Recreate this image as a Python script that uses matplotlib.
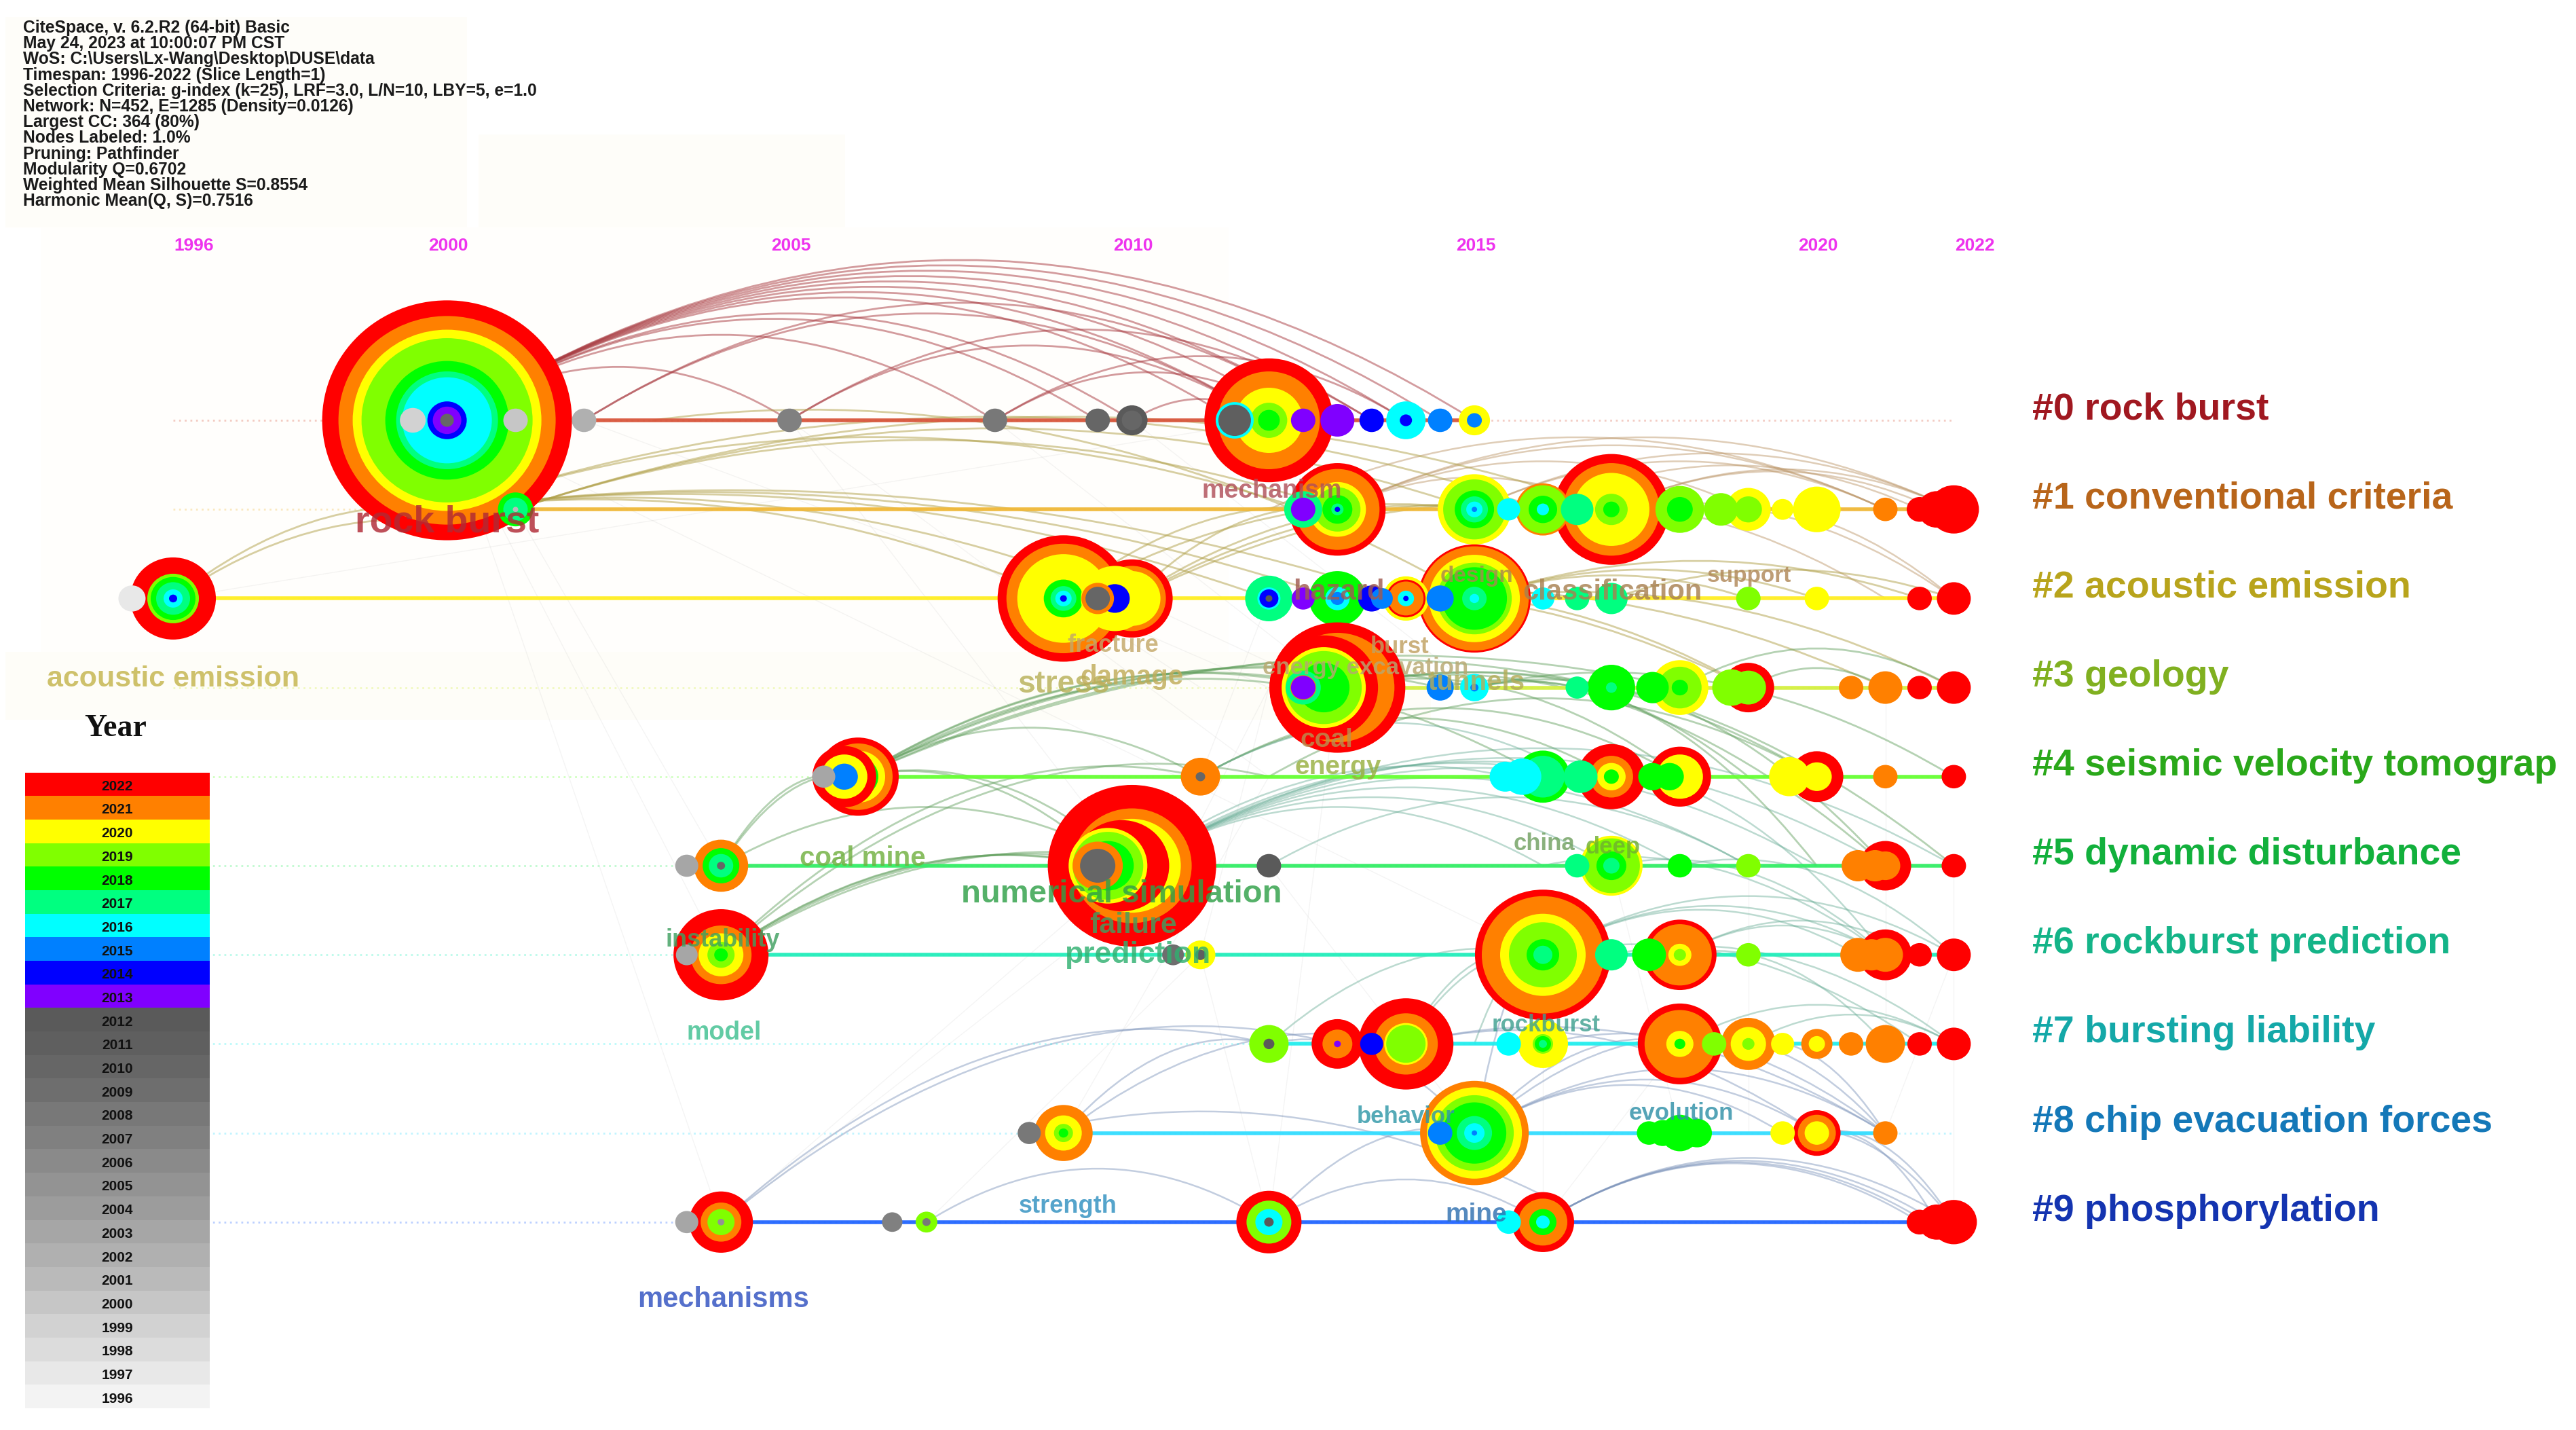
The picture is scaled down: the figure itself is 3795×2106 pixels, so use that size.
import matplotlib
matplotlib.use("Agg")
import matplotlib.pyplot as plt
from matplotlib.patches import Ellipse, PathPatch, Rectangle
from matplotlib.path import Path

W, H = 3795, 2106
plt.rcParams['font.family'] = ['Liberation Sans', 'DejaVu Sans']

# ---------- data ----------
INFO_LINES = [
    "CiteSpace, v. 6.2.R2 (64-bit) Basic",
    "May 24, 2023 at 10:00:07 PM CST",
    "WoS: C:\\Users\\Lx-Wang\\Desktop\\DUSE\\data",
    "Timespan: 1996-2022 (Slice Length=1)",
    "Selection Criteria: g-index (k=25), LRF=3.0, L/N=10, LBY=5, e=1.0",
    "Network: N=452, E=1285 (Density=0.0126)",
    "Largest CC: 364 (80%)",
    "Nodes Labeled: 1.0%",
    "Pruning: Pathfinder",
    "Modularity Q=0.6702",
    "Weighted Mean Silhouette S=0.8554",
    "Harmonic Mean(Q, S)=0.7516",
]
TIME_TICKS = [1996, 2000, 2005, 2010, 2015, 2020, 2022]
CLUSTERS = ["#0 rock burst", "#1 conventional criteria", "#2 acoustic emission", "#3 geology",
            "#4 seismic velocity tomograp", "#5 dynamic disturbance", "#6 rockburst prediction",
            "#7 bursting liability", "#8 chip evacuation forces", "#9 phosphorylation"]
LEGEND_YEARS = list(range(2022, 1995, -1))
YEAR_COLORS = {2022: "#ff0000", 2021: "#ff8000", 2020: "#ffff00", 2019: "#80ff00", 2018: "#00ff00",
               2017: "#00ff80", 2016: "#00ffff", 2015: "#0080ff", 2014: "#0000ff", 2013: "#8000ff",
               2012: "#5a5a5a", 2011: "#5f5f5f", 2010: "#666666", 2009: "#6e6e6e", 2008: "#787878",
               2007: "#808080", 2006: "#8a8a8a", 2005: "#939393", 2004: "#9c9c9c", 2003: "#a6a6a6",
               2002: "#b0b0b0", 2001: "#bababa", 2000: "#c6c6c6", 1999: "#d2d2d2", 1998: "#dcdcdc",
               1997: "#e8e8e8", 1996: "#f3f3f3"}

# node = (year, [(ring year, ring size), ... outer to inner])
NODES_0 = [
    (2000, [(2022, 184), (2021, 160), (2020, 139), (2019, 126), (2018, 91), (2017, 75), (2016, 66), (2014, 29), (2013, 21), (2010, 10)]),
    (1999.5, [(1999, 19)]), (2001, [(2000, 18)]), (2002, [(2002, 18)]), (2005, [(2007, 18)]),
    (2008, [(2008, 18)]), (2009.5, [(2010, 18)]), (2010, [(2012, 23), (2010, 15)]),
    (2012, [(2022, 95), (2021, 75), (2020, 50), (2019, 27), (2018, 16)]),
    (2011.5, [(2016, 28), (2011, 24)]), (2012.5, [(2013, 18)]), (2013, [(2013, 25)]), (2013.5, [(2014, 18)]),
    (2014, [(2016, 29), (2014, 9)]), (2014.5, [(2015, 18)]), (2015, [(2020, 23), (2015, 11)]),
]
NODES_1 = [
    (2001, [(2018, 26), (2017, 18), (2001, 4)]),
    (2013, [(2022, 71), (2021, 62), (2020, 42), (2019, 34), (2018, 22), (2017, 9), (2014, 4)]),
    (2012.5, [(2017, 28), (2013, 18)]),
    (2015, [(2020, 54), (2019, 46), (2018, 29), (2017, 20), (2016, 12), (2015, 4)]),
    (2015.5, [(2016, 17)]),
    (2016, [(2021, 40), (2019, 37), (2018, 21), (2016, 9)]),
    (2017, [(2022, 85), (2021, 71), (2020, 56), (2019, 24), (2018, 12)]),
    (2016.5, [(2017, 24)]),
    (2018, [(2019, 36), (2018, 19)]), (2018.6, [(2019, 25)]),
    (2019, [(2020, 33), (2019, 20)]), (2019.5, [(2020, 16)]), (2020, [(2020, 35)]), (2021, [(2021, 18)]),
    (2021.5, [(2022, 19)]), (2021.75, [(2022, 28)]), (2022, [(2022, 37)]),
]
NODES_2 = [
    (1996, [(2022, 63), (2019, 38), (2018, 33), (2017, 25), (2016, 14), (2014, 6)]),
    (1995.4, [(1997, 20)]),
    (2009, [(2022, 97), (2021, 84), (2020, 68), (2018, 29), (2017, 19), (2016, 12), (2014, 5)]),
    (2010, [(2022, 60), (2021, 50), (2020, 42), (2018, 13), (2020, 8)]),
    (2009.75, [(2020, 50), (2014, 22)]),
    (2009.5, [(2021, 24), (2010, 18)]),
    (2012, [(2017, 35), (2016, 17), (2014, 14), (2012, 5)]), (2012.5, [(2013, 17)]),
    (2013, [(2018, 42), (2016, 18), (2015, 10)]), (2013.5, [(2014, 20)]), (2013.65, [(2015, 16)]),
    (2014, [(2020, 34), (2022, 29), (2021, 26), (2016, 12), (2014, 4)]),
    (2015, [(2022, 83), (2021, 80), (2020, 67), (2019, 55), (2018, 48), (2017, 18), (2016, 7)]),
    (2014.5, [(2015, 20)]), (2016, [(2016, 17)]), (2016.5, [(2017, 18)]), (2017, [(2017, 24)]),
    (2019, [(2019, 18)]), (2020, [(2020, 18)]), (2021.5, [(2022, 18)]), (2022, [(2022, 25)]),
]
NODES_3 = [
    (2013, [(2022, 100), (2021, 84)]),
    (2012.8, [(2022, 80), (2020, 62), (2019, 56), (2018, 38)]),
    (2012.5, [(2017, 26), (2021, 19), (2013, 18)]),
    (2014.5, [(2015, 20)]), (2015, [(2016, 21), (2015, 6)]), (2016.5, [(2017, 17)]),
    (2017, [(2018, 35), (2017, 8)]), (2017.6, [(2018, 24)]), (2018, [(2020, 42), (2019, 32), (2018, 12)]),
    (2019, [(2022, 38), (2019, 26)]), (2018.75, [(2019, 28)]), (2020.5, [(2021, 18)]), (2021, [(2021, 25)]),
    (2021.5, [(2022, 18)]), (2022, [(2022, 25)]),
]
NODES_4 = [
    (2006, [(2022, 60), (2021, 51), (2020, 40), (2018, 30)]),
    (2005.8, [(2022, 47), (2020, 34), (2015, 20)]),
    (2005.5, [(2003, 17)]),
    (2011, [(2021, 29), (2010, 7)]),
    (2016, [(2018, 40), (2017, 32)]), (2015.7, [(2016, 28)]), (2015.45, [(2016, 23)]), (2016.55, [(2017, 25)]),
    (2017, [(2022, 50), (2021, 32), (2020, 21), (2018, 11)]),
    (2018, [(2022, 46), (2020, 34)]), (2017.6, [(2018, 21)]), (2017.85, [(2018, 21)]),
    (2020, [(2022, 39), (2020, 22)]), (2019.6, [(2020, 30)]), (2021, [(2021, 18)]), (2022, [(2022, 18)]),
]
NODES_5 = [
    (2004, [(2021, 40), (2018, 27), (2017, 18), (2010, 6)]), (2003.5, [(2003, 17)]),
    (2010, [(2022, 124), (2021, 88), (2020, 72)]),
    (2009.85, [(2022, 70)]),
    (2009.65, [(2020, 58), (2019, 52), (2018, 38)]),
    (2009.5, [(2021, 37), (2010, 26)]),
    (2012, [(2012, 18)]), (2016.5, [(2017, 18)]),
    (2017, [(2020, 46), (2019, 42), (2018, 22), (2017, 12)]),
    (2018, [(2018, 18)]), (2019, [(2019, 18)]), (2020.6, [(2021, 24)]), (2021, [(2022, 38), (2021, 22)]),
    (2020.85, [(2021, 24)]), (2022, [(2022, 18)]),
]
NODES_6 = [
    (2004, [(2022, 70), (2021, 45), (2020, 33), (2019, 20), (2018, 10)]), (2003.5, [(2003, 16)]),
    (2010.6, [(2009, 16)]), (2011, [(2020, 22), (2011, 8)]),
    (2016, [(2022, 100), (2021, 90), (2020, 63), (2019, 50), (2018, 24), (2017, 14)]),
    (2017, [(2017, 24)]), (2017.55, [(2018, 25)]),
    (2018, [(2022, 54), (2021, 47), (2020, 17), (2019, 9)]),
    (2019, [(2019, 18)]), (2021, [(2022, 39), (2021, 26)]), (2020.6, [(2021, 26)]), (2020.8, [(2021, 24)]),
    (2021.5, [(2022, 18)]), (2022, [(2022, 25)]),
]
NODES_7 = [
    (2012, [(2019, 29), (2012, 8)]), (2013, [(2022, 38), (2021, 22), (2013, 5)]), (2013.5, [(2014, 17)]),
    (2014, [(2022, 70), (2021, 47), (2020, 32), (2019, 29)]), (2015.5, [(2016, 18)]),
    (2016, [(2020, 37), (2019, 15), (2018, 12), (2017, 6)]),
    (2018, [(2022, 62), (2021, 52), (2020, 20), (2018, 8)]), (2018.5, [(2019, 18)]),
    (2019, [(2021, 40), (2020, 26), (2019, 9)]), (2019.5, [(2020, 17)]), (2020, [(2021, 23), (2020, 12)]),
    (2020.5, [(2021, 18)]), (2021, [(2021, 29)]), (2021.5, [(2022, 18)]), (2022, [(2022, 25)]),
]
NODES_8 = [
    (2009, [(2021, 43), (2020, 27), (2019, 14), (2018, 7)]), (2008.5, [(2008, 17)]),
    (2015, [(2021, 80), (2020, 70), (2019, 58), (2018, 47), (2017, 26), (2016, 15), (2015, 4)]),
    (2014.5, [(2015, 18)]), (2017.55, [(2018, 18)]), (2017.75, [(2018, 20)]), (2018, [(2018, 28)]), (2018.25, [(2018, 22)]),
    (2019.5, [(2020, 18)]), (2020, [(2022, 35), (2021, 28), (2020, 18)]), (2021, [(2021, 18)]),
]
NODES_9 = [
    (2004, [(2022, 47), (2021, 30), (2019, 20), (2005, 5)]), (2003.5, [(2003, 17)]),
    (2006.5, [(2007, 15)]), (2007, [(2019, 16), (2008, 6)]),
    (2012, [(2022, 48), (2019, 33), (2016, 20), (2012, 7)]), (2015.5, [(2016, 18)]),
    (2016, [(2022, 46), (2021, 36), (2018, 20), (2016, 10)]),
    (2021.5, [(2022, 19)]), (2021.75, [(2022, 27)]), (2022, [(2022, 34)]),
]
ALL_NODES = [NODES_0, NODES_1, NODES_2, NODES_3, NODES_4, NODES_5, NODES_6, NODES_7, NODES_8, NODES_9]

# edges = (year from, cluster from, year to, cluster to)
EDGES_RED = [(2000, 0, y, 0) for y in (2005, 2008, 2009.5, 2010, 2011.5, 2012, 2012.5, 2013, 2013.5, 2014, 2014.5, 2015)] + [
    (2002, 0, 2012, 0), (2005, 0, 2012, 0), (2008, 0, 2014, 0), (2008, 0, 2012.5, 0), (2002, 0, 2013, 0), (2010, 0, 2012, 0), (2005, 0, 2013.5, 0)]
EDGES_TAN = [(2013, 1, 2017, 1), (2013, 1, 2019, 1), (2013, 1, 2021, 1), (2013, 1, 2022, 1), (2015, 1, 2021, 1),
             (2015, 1, 2022, 1), (2016, 1, 2021.5, 1), (2017, 1, 2021.75, 1), (2017, 1, 2022, 1), (2015, 1, 2021, 2),
             (2017, 1, 2022, 2), (2018, 1, 2022, 2), (2012, 1, 2021, 1)]
EDGES_OLIVE = [(1996, 2, 2000, 1), (1996, 2, 2000, 1.15), (2000, 1, 2009, 2), (2000, 1, 2010, 2), (2000, 1, 2012, 2),
               (2000, 1, 2013, 2), (2000, 1, 2014, 2), (2001, 1, 2013, 1), (2001, 1, 2015, 1), (2001, 1, 2017, 1),
               (2000, 1, 2012.5, 1), (2000, 1, 2016, 1), (2010, 2, 2016, 1), (2010, 2, 2017, 1), (2010, 2, 2015, 1),
               (2010, 2, 2013, 1), (2009, 2, 2013, 1), (2009, 2, 2015, 1), (2015, 2, 2020, 2), (2015, 2, 2021.5, 2),
               (2015, 2, 2019, 2), (2017, 2, 2022, 2), (2015, 2, 2022, 3), (2013, 2, 2019, 3), (2013, 2, 2021, 3),
               (2003, 0, 2015, 2), (2012, 2, 2019, 3)]
EDGES_GREEN = [(2006, 4, 2012.8, 3), (2006, 4, 2013, 3), (2006, 4, 2014.5, 3), (2006, 4, 2015, 3), (2006, 4, 2017, 3),
               (2006, 4, 2018, 3), (2004, 5, 2006, 4), (2004, 5, 2005.8, 4), (2006, 4, 2011, 4), (2006, 4, 2016, 4),
               (2013, 3, 2018, 4), (2013, 3, 2020, 4), (2013, 3, 2021, 5), (2013, 3, 2022, 5), (2015, 3, 2021, 5),
               (2015, 3, 2022, 4), (2015, 3, 2020, 5), (2014.5, 3, 2019, 4), (2011, 4, 2017, 4), (2011, 4, 2018, 4),
               (2012, 4, 2020, 4), (2018, 3, 2022, 3), (2019, 3, 2021, 3), (2004, 6, 2009.5, 5), (2004, 6, 2010, 5),
               (2004, 6, 2009.6, 5), (2004, 6, 2011, 4), (2004, 6, 2010.6, 5), (2004, 6, 2012, 4), (2004, 5, 2010, 5),
               (2006, 4, 2010, 5), (2006, 4, 2009.7, 5)]
EDGES_TEAL = [(2010, 5, 2016, 5), (2010, 5, 2017, 5), (2010, 5, 2018, 5), (2010, 5, 2019, 5), (2010, 5, 2021, 5),
              (2010, 5, 2020, 5), (2010, 5, 2022, 5), (2010, 5, 2015.5, 4), (2010, 5, 2016.5, 4), (2010, 5, 2017, 4),
              (2011, 4, 2016.5, 4), (2016, 5, 2021, 6), (2016, 4, 2021, 6), (2017, 5, 2021, 6), (2018, 5, 2022, 6),
              (2017, 6, 2022, 7), (2016, 6, 2021, 6), (2016, 6, 2022, 6), (2016, 6, 2020.6, 6), (2018, 6, 2021, 6),
              (2018, 6, 2021.5, 6), (2016, 6, 2021.5, 7), (2018, 6, 2021, 7), (2018, 7, 2022, 7), (2019, 7, 2022, 7),
              (2014, 7, 2016, 6), (2014, 7, 2015.7, 6), (2015, 7, 2016, 6), (2012, 7, 2016, 6), (2012, 5, 2019, 5)]
EDGES_BLUE = [(2004, 9, 2012, 7), (2004, 9, 2013, 7), (2009, 8, 2014, 7), (2009, 8, 2012, 7),
              (2007, 9, 2012, 9), (2012, 9, 2016, 9), (2012, 9, 2015, 8),
              (2012, 7, 2015, 8), (2008.5, 8, 2016, 8.7), (2015, 8, 2018, 7),
              (2015, 8, 2016, 6), (2015, 8, 2019, 7), (2015, 8, 2020, 8), (2015, 8, 2021, 8), (2015, 8, 2019.5, 8),
              (2014, 7, 2020, 8), (2014, 7, 2021, 8), (2016, 7, 2021, 8), (2018, 7, 2021, 8),
              (2019, 7, 2021, 8), (2020, 8, 2021.75, 9), (2020, 8, 2022, 9), (2019.5, 8, 2022, 9),
              (2016, 9, 2021.5, 9), (2016, 9, 2021.75, 9), (2016, 9, 2022, 9), (2016, 9, 2021.6, 9)]
FAINT_LINES = [(2000, 0, 2004, 6), (2000, 0, 2004, 9), (2001, 1, 2004, 5), (1996, 2, 2012, 0), (2000, 0, 2016, 6),
               (2005, 0, 2010, 5), (2005, 0, 2012, 4), (2008, 0, 2013, 3), (2010, 0, 2015, 3), (2002, 0, 2009, 2),
               (2004, 9, 2009, 6), (2004, 9, 2010, 5), (2007, 9, 2011, 6), (2009, 8, 2012, 4), (2012, 9, 2013, 3),
               (2015, 8, 2012, 5), (2016, 9, 2016, 6), (2021, 8, 2022, 6), (2022, 9, 2022, 5), (2021, 3, 2021, 7),
               (2019, 5, 2019, 8), (2012, 3, 2010, 6), (2012, 3, 2011, 6), (2009, 2, 2012, 3), (2009, 2, 2011, 3),
               (2010, 2, 2012.8, 3), (2011, 6, 2012, 9), (2011, 4, 2012, 2), (2017, 5, 2018, 8), (2016, 9, 2018, 7)]

# label = (text, cluster, year anchor, x offset, y offset, size, colour)
LABELS = [
    ("rock burst", 0, 2000, 0, 150, 40, "#b02a35"), ("acoustic emission", 2, 1996, 0, 119, 31, "#c4b44c"),
    ("mechanism", 0, 2012, 4, 104, 27, "#b0505a"), ("stress", 2, 2009, 0, 127, 33, "#b8b058"),
    ("fracture", 2, 2010, -28, 69, 26, "#c4a868"), ("damage", 2, 2010, 0, 116, 29, "#c0ac58"),
    ("hazard", 2, 2013, 2, -9, 30, "#a05a50"), ("design", 2, 2015, 3, -33, 24, "#a88850"),
    ("classification", 2, 2017, 2, -9, 30, "#a88050"), ("support", 2, 2019, 1, -33, 24, "#b08858"),
    ("burst", 3, 2014, -9, -60, 25, "#c0a060"), ("energy excavation", 3, 2013, 41, -29, 25, "#b8a870"),
    ("tunnels", 3, 2015, 3, -8, 29, "#b4ac58"), ("coal", 4, 2013, -16, -54, 28, "#b89050"),
    ("energy", 4, 2013, 1, -14, 28, "#98b040"), ("coal mine", 5, 2006, 7, -11, 29, "#70b040"),
    ("numerical simulation", 5, 2010, -15, 42, 34, "#30a048"), ("failure", 5, 2010, 2, 88, 31, "#40a060"),
    ("prediction", 6, 2010, 8, 0, 32, "#30b070"), ("instability", 6, 2004, 3, -22, 26, "#40a060"),
    ("model", 7, 2004, 4, -16, 27, "#40c090"), ("china", 5, 2016, 2, -33, 25, "#70a060"),
    ("deep", 5, 2017, 2, -28, 25, "#70b030"), ("rockburst", 7, 2016, 5, -28, 25, "#40a090"),
    ("behavior", 8, 2014, 0, -24, 25, "#3098a8"), ("evolution", 8, 2018, 2, -29, 25, "#3090a8"),
    ("strength", 9, 2009, 7, -23, 26, "#3090c0"), ("mine", 9, 2015, 3, -11, 28, "#3070b0"),
    ("mechanisms", 9, 2004, 3, 114, 30, "#3050c0"),
]

# ---------- styles ----------
LINE_COLORS = ["#d8563c", "#f0b838", "#ffee22", "#d4f040", "#66ff33", "#33ee66", "#22eebb", "#22eeee", "#33ddff", "#2266ff"]
TITLE_COLORS = ["#a01820", "#b8651a", "#b8a41c", "#80b020", "#2aa81a", "#12b03c", "#14b488", "#14a8a8", "#1478b8", "#1434b0"]

# ---------- scale ----------
X0, XS, Y0, YS = 255.0, 100.9, 619.0, 131.2
fig = plt.figure(figsize=(W / 100, H / 100), dpi=100, facecolor="white")
ax = fig.add_axes([0, 0, 1, 1])
ax.set_xlim(1996 - X0 / XS, 1996 + (W - X0) / XS)
ax.set_ylim((H - Y0) / YS, -Y0 / YS)
ax.axis("off")

# faint paper background blotches
for (x, y, w, h, c) in [(8, 25, 680, 310, "#fefdf9"), (705, 198, 540, 190, "#fefdf9"), (60, 335, 1750, 650, "#fffefc"),
                        (8, 960, 2100, 100, "#fefdf8")]:
    fig.patches.append(Rectangle((x / W, 1 - (y + h) / H), w / W, h / H, transform=fig.transFigure, fc=c, ec="none", zorder=-5))

# faint network lines
for y1, c1, y2, c2 in FAINT_LINES:
    ax.plot([y1, y2], [c1, c2], color="#999999", lw=1.0, alpha=0.10, zorder=1)

# arcs
def arc(e, color, alpha, lw, k):
    y1, c1, y2, c2 = e
    span = abs(y2 - y1)
    rise = k * span if c1 == c2 else 0.4 * k * span
    top = min(c1, c2) - rise
    p = Path([(y1, c1), ((y1 + y2) / 2, top), (y2, c2)], [Path.MOVETO, Path.CURVE3, Path.CURVE3])
    ax.add_patch(PathPatch(p, fc="none", ec=color, lw=lw, alpha=alpha, zorder=2))

for group, col, a, lw, k in [(EDGES_RED, "#a83a40", 0.5, 2.0, 0.24), (EDGES_TAN, "#b89060", 0.45, 1.8, 0.18),
                             (EDGES_OLIVE, "#b0a048", 0.5, 2.0, 0.13), (EDGES_GREEN, "#5c9c58", 0.45, 2.0, 0.22),
                             (EDGES_TEAL, "#60a890", 0.42, 1.8, 0.22), (EDGES_BLUE, "#7890b8", 0.45, 1.8, 0.24)]:
    for e in group:
        arc(e, col, a, lw, k)

# timelines
for i, nodes in enumerate(ALL_NODES):
    ys = [n[0] for n in nodes]
    ax.plot([1996, 2022], [i, i], color=LINE_COLORS[i], lw=2.0, ls=(0, (1, 2)), alpha=0.3, zorder=2)
    ax.plot([min(ys), max(ys)], [i, i], color=LINE_COLORS[i], lw=4.0, alpha=0.95, zorder=3, solid_capstyle="butt")

# tree-ring nodes
z = 4.0
for i, nodes in enumerate(ALL_NODES):
    for year, rings in sorted(nodes, key=lambda n: -n[1][0][1]):
        for ry, r in rings:
            z += 0.001
            ax.add_patch(Ellipse((year, i), 2 * r * 1.0 / XS, 2 * r * 0.96 / YS, fc=YEAR_COLORS[ry], ec="none", zorder=z))

# node labels
for text, c, yr, dx, dy, fs, col in LABELS:
    ax.annotate(text, xy=(yr, c), xytext=(dx, -dy), textcoords="offset pixels", ha="center", va="center",
                fontsize=fs, fontweight="bold", color=col, alpha=0.82, zorder=20)

# cluster titles
for i, name in enumerate(CLUSTERS):
    ax.annotate(name, xy=(2022, i), xytext=(116, 16), textcoords="offset pixels", ha="left", va="center",
                fontsize=40, fontweight="bold", color=TITLE_COLORS[i], zorder=20, annotation_clip=False)

# time axis labels
for y in TIME_TICKS:
    off = {1996: 31, 2022: 31}.get(y, 2)
    ax.annotate(str(y), xy=(y, 0), xytext=(off, Y0 - 362), textcoords="offset pixels", ha="center", va="center",
                fontsize=19, fontweight="bold", color="#ee33ee", zorder=20)

# info block
for k, line in enumerate(INFO_LINES):
    fig.text(34 / W, 1 - (41 + 23.2 * k) / H, line, fontsize=17.7, color="#1a1a1a", va="center", ha="left", fontweight="semibold")

# legend
lax = fig.add_axes([36.5 / W, 1 - 2074 / H, (309 - 36.5) / W, (2074 - 1137.5) / H])
for k, y in enumerate(LEGEND_YEARS):
    lax.barh(k, 1, height=1, color=YEAR_COLORS[y], edgecolor="none")
    lax.text(0.5, k + 0.1, str(y), ha="center", va="center", fontsize=15, fontweight="bold", color="#111111")
lax.set_xlim(0, 1)
lax.set_ylim(len(LEGEND_YEARS) - 0.5, -0.5)
lax.axis("off")
fig.text(170 / W, 1 - 1073 / H, "Year", ha="center", va="center", fontsize=33, fontweight="bold",
         family=["Liberation Serif"], color="#111111")

fig.savefig("out.png", dpi=100, facecolor="white")
